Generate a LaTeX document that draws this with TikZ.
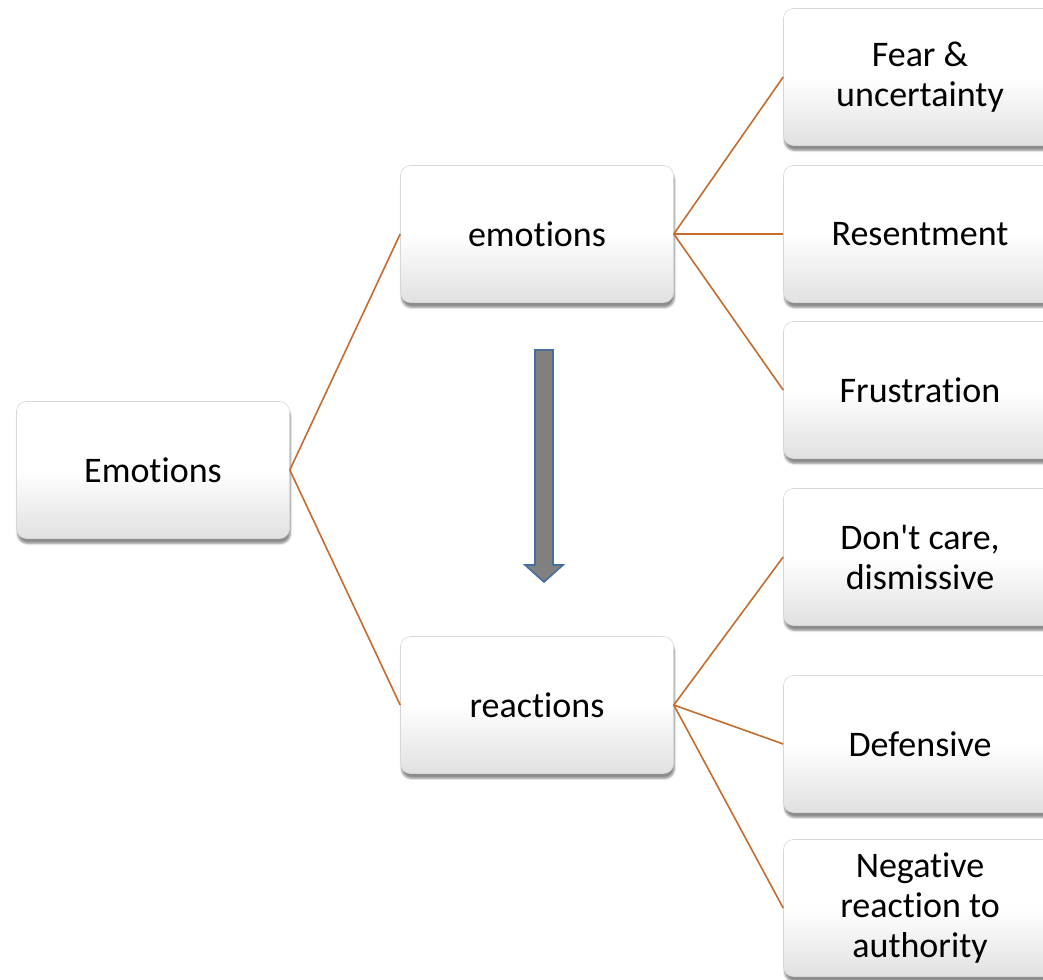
\documentclass[tikz,border=0pt]{standalone}
\usepackage{fontspec}
\setmainfont{Carlito}[Ligatures={TeXOff,CommonOff}]
\usetikzlibrary{shadows.blur}
\definecolor{conn}{RGB}{196,108,48}
\definecolor{arrowedge}{RGB}{70,110,160}
\definecolor{boxedge}{RGB}{215,215,215}
\tikzset{
  box/.style={draw=boxedge, line width=0.6pt, rounded corners=10pt,
    minimum width=273pt, minimum height=137pt, align=center,
    top color=white, bottom color=black!12, middle color=white,
    shading angle=0,
    blur shadow={shadow xshift=1pt, shadow yshift=-5pt, shadow blur steps=6, shadow opacity=45},
    font=\fontsize{36}{40}\selectfont, inner sep=0pt},
  conline/.style={draw=conn, line width=1.6pt},
  bigarrow/.style={fill=black!50, draw=arrowedge, line width=1.6pt, line join=miter}
}
\begin{document}
\begin{tikzpicture}[x=1pt,y=-1pt]
\useasboundingbox (0,0) rectangle (1043,979);
\clip (0,0) rectangle (1043,979);
\node[box] (root) at (153,470) {Emotions};
\node[box] (emo) at (537,234) {emotions};
\node[box] (rea) at (537,705) {reactions};
\node[box] (fear) at (920,77) {Fear \&\\uncertainty};
\node[box] (res) at (920,234) {Resentment};
\node[box] (fru) at (920,390) {Frustration};
\node[box] (dont) at (920,557) {Don't care,\\dismissive};
\node[box] (def) at (920,744) {Defensive};
\node[box] (neg) at (920,908) {Negative\\reaction to\\authority};
\draw[conline] (root.east) -- (emo.west);
\draw[conline] (root.east) -- (rea.west);
\draw[conline] (emo.east) -- (fear.west);
\draw[conline] (emo.east) -- (res.west);
\draw[conline] (emo.east) -- (fru.west);
\draw[conline] (rea.east) -- (dont.west);
\draw[conline] (rea.east) -- (def.west);
\draw[conline] (rea.east) -- (neg.west);
\draw[bigarrow] (535,350) -- (553,350) -- (553,565) -- (563,565) -- (544,582) -- (525,565) -- (535,565) -- cycle;
\end{tikzpicture}
\end{document}
